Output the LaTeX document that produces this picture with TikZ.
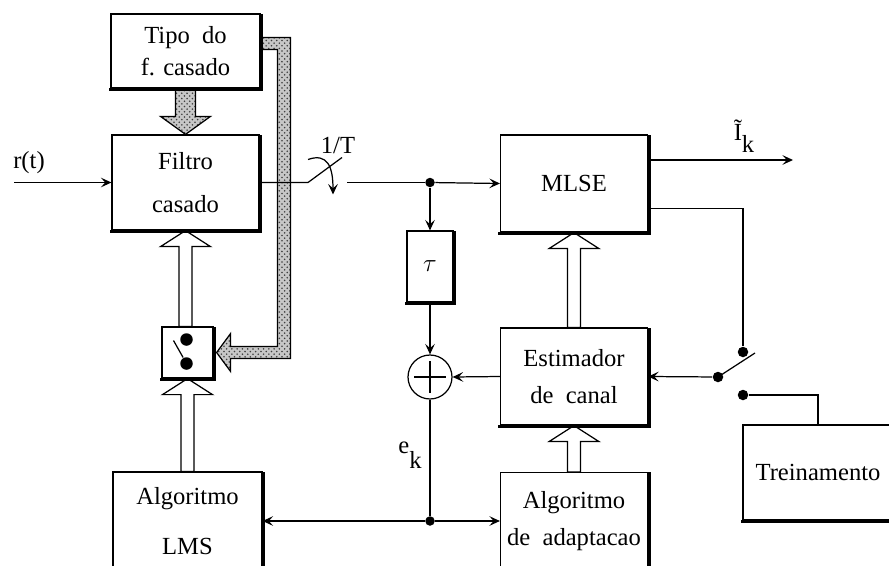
\documentclass[tikz,border=0pt]{standalone}
\usepackage{fontspec}
\setmainfont{Liberation Serif}
\usetikzlibrary{arrows.meta, calc, patterns}
\tikzset{
  every picture/.style={x=0.02cm, y=-0.02cm, line width=0.7pt, font=\fontsize{14}{16.5}\selectfont},
  box/.style={draw, fill=white, align=center, inner sep=0pt, minimum width=2.94cm, minimum height=1.94cm},
  conn/.style={-{Stealth[length=6pt, width=5.5pt, inset=2.5pt]}},
  dot/.style={circle, fill, inner sep=0pt, minimum size=0.19cm},
  hollow/.style={draw, fill=white},
  hatched/.style={draw, preaction={fill=black!22}, pattern=crosshatch dots, pattern color=black!75},
  shade/.style={line width=1.8pt, line cap=rect},
}
% wide outlined arrow: from, tip, +1 points up / -1 points down
\newcommand{\fatarrow}[3]{%
  \draw[hollow] (#2) -- ($(#2)+(25,#3*16)$) -- ($(#2)+(6.5,#3*16)$) -- ($(#2|-#1)+(6.5,0)$)
    -- ($(#2|-#1)+(-6.5,0)$) -- ($(#2)+(-6.5,#3*16)$) -- ($(#2)+(-25,#3*16)$) -- cycle;}

\begin{document}
\begin{tikzpicture}
  \useasboundingbox (0,0) rectangle (889,565);
  \clip (0,0) rectangle (889,565);
  % blocks
  \node[box, minimum width=2.98cm, minimum height=1.48cm] (tipo) at (185.5,51) {Tipo\ \ do\\[2pt]f. casado};
  \node[box, minimum height=1.9cm] (filtro) at (185.5,182.5) {Filtro\\[7.5pt]casado};
  \node[box, minimum size=1.02cm] (sw) at (187.5,352.5) {};
  \node[box, minimum width=2.98cm, minimum height=1.96cm] (lms) at (187.5,521) {Algoritmo\\[11.5pt]LMS};
  \node[box] (mlse) at (574,183.5) {MLSE};
  \node[box, minimum width=0.92cm, minimum height=1.42cm] (tau) at (430,266.5) {$\tau$};
  \node[circle, draw, minimum size=0.88cm, inner sep=0pt] (sum) at (430,377) {};
  \node[box] (est) at (574,376.5) {Estimador\\[5pt]de\ \ canal};
  \node[box] (adapt) at (574,521) {Algoritmo\\[5pt]de\ \ adaptacao};
  \node[box, minimum width=3cm, minimum height=1.9cm] (trein) at (818,472.5) {Treinamento};

  % wide arrows
  \fatarrow{sw.north}{filtro.south}{1}
  \fatarrow{lms.north}{sw.south}{1}
  \fatarrow{est.north}{mlse.south}{1}
  \fatarrow{adapt.north}{est.south}{1}
  \draw[hatched] ($(tipo.south)+(-10,0)$) -- ($(filtro.north)+(-10,-18)$) -- ($(filtro.north)+(-25,-18)$)
    -- (filtro.north) -- ($(filtro.north)+(25,-18)$) -- ($(filtro.north)+(10,-18)$) -- ($(tipo.south)+(10,0)$) -- cycle;
  \draw[hatched] ($(tipo.north east)+(0,24)$) -- ++(30,0) |- ($(sw.east)+(17,6)$) -- ++(0,13)
    -- ($(sw.east)+(3,0)$) -- ++(14,-19) -- ++(0,13) -| ($(tipo.north east)+(17,36)$)
    -- ($(tipo.north east)+(0,36)$) -- cycle;

  % heavy right and bottom edges
  \foreach \n in {tipo,filtro,sw,lms,mlse,tau,est,adapt,trein}
    \draw[shade] ([shift={(1,2)}]\n.north east) -- ([shift={(1,1)}]\n.south east) -- ([shift={(0,1)}]\n.south west);

  % adder
  \draw ($(sum.north)+(0,7)$) -- ($(sum.south)+(0,-7)$);
  \draw ($(sum.west)+(7,0)$) -- ($(sum.east)+(-7,0)$);

  % switch in the small box
  \node[dot, minimum size=0.25cm] (swa) at ($(sw.center)+(-1,-13)$) {};
  \node[dot, minimum size=0.25cm] (swb) at ($(sw.center)+(-1,11)$) {};
  \draw ($(sw.center)+(-14,-12)$) -- (swb);

  % input and sampler
  \coordinate (rin) at (14,182.5);
  \node (rt) at (29,163) {r(t)};
  \draw[conn] (rin) -- (filtro.west);
  \coordinate (s1) at (308,182.5);
  \coordinate (s2) at (347,182.5);
  \draw (filtro.east) -- (s1) -- ++(34,-25);
  \draw[conn] ($(s1)+(0,-23)$) .. controls ($(s1)+(20,-30)$) and ($(s1)+(25,-15)$) .. ($(s1)+(25,12)$);
  \node (rate) at (338,145) {1/T};
  \node[dot] (j1) at (430,182.5) {};
  \draw (s2) -- (j1);
  \draw[conn] (j1) -- (mlse.west);
  \draw[conn] (j1) -- (tau.north);
  \draw[conn] (tau.south) -- (sum.north);
  \draw[conn] (est.west) -- (sum.east);
  \node[dot] (j2) at (430,521) {};
  \draw (sum.south) -- (j2);
  \draw[conn] (j2) -- (lms.east);
  \draw[conn] (j2) -- (adapt.west);
  \node (ek) at (410,455) {e\raisebox{-0.6em}{k}};

  % output
  \coordinate (out) at (793,160);
  \draw[conn] (mlse.east |- out) -- (out);
  \node (ik) at (744,136) {\~I\raisebox{-0.5em}{k}};

  % training switch
  \node[dot, minimum size=0.21cm] (t1) at (743,352) {};
  \node[dot, minimum size=0.21cm] (piv) at (718,377) {};
  \node[dot, minimum size=0.21cm] (t2) at (743,395) {};
  \draw ($(mlse.south east)+(0,-24)$) -| (t1);
  \draw (piv.center) -- ($(t1)+(12,1)$);
  \draw[conn] (piv) -- (est.east);
  \draw (t2) -| (trein.north);
\end{tikzpicture}
\end{document}
